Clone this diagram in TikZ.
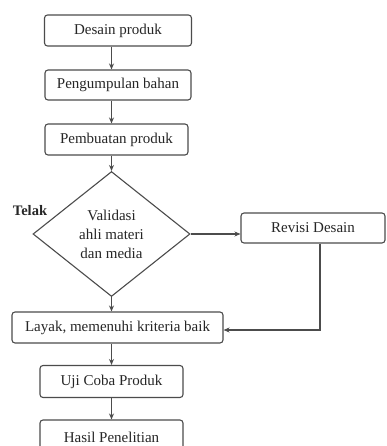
\documentclass[tikz,border=0pt]{standalone}
\usepackage{fontspec}
\setmainfont{Liberation Serif}
\usetikzlibrary{shapes.geometric,arrows.meta}
\tikzset{
  box/.style={draw=black!70, line width=1.1pt, rounded corners=3pt, inner sep=0pt, text=black!85, font=\fontsize{15}{19}\selectfont},
  flow/.style={draw=black!70, line width=1.1pt, -{Stealth[length=6pt,width=5pt]}},
  dia/.style={draw=black!70, line width=1.1pt, shape=diamond, inner sep=0pt, minimum width=157pt, minimum height=125pt, align=center, text=black!85, font=\fontsize{15}{19}\selectfont}
}
\begin{document}
\begin{tikzpicture}[x=1pt,y=-1pt]
\clip (0,0) rectangle (387,446);
\fill[white] (0,0) rectangle (387,446);
\node[box, minimum width=147pt, minimum height=31pt] (b1) at (118,30.5) {Desain produk};
\node[box, minimum width=146pt, minimum height=30pt] (b2) at (118,85) {Pengumpulan bahan};
\node[box, minimum width=143pt, minimum height=31pt] (b3) at (116.5,139.5) {Pembuatan produk};
\node[dia] (d) at (111.5,234) {Validasi\\ahli materi\\dan media};
\node[font=\bfseries\fontsize{14.5}{17}\selectfont, text=black!85, inner sep=0pt] (t) at (30,211) {Telak};
\node[box, minimum width=144pt, minimum height=30pt] (rev) at (313,228) {Revisi Desain};
\node[box, minimum width=211pt, minimum height=31pt] (lay) at (117.5,327.5) {Layak, memenuhi kriteria baik};
\node[box, minimum width=143pt, minimum height=32pt] (uji) at (111.5,381.5) {Uji Coba Produk};
\node[box, minimum width=143pt, minimum height=34pt] (has) at (111.5,437) {Hasil Penelitian};
\coordinate (c1) at (320,330);
\draw[flow] (b1.south -| d.north) -- (b2.north -| d.north);
\draw[flow] (b2.south -| d.north) -- (b3.north -| d.north);
\draw[flow] (b3.south -| d.north) -- (d.north);
\draw[flow] (d.east) -- (rev.west |- d.east);
\draw[flow] (d.south) -- (lay.north -| d.south);
\draw[flow] (rev.south -| c1) -- (c1) -- (lay.east |- c1);
\draw[flow] (lay.south -| d.south) -- (uji.north -| d.south);
\draw[flow] (uji.south) -- (has.north);
\end{tikzpicture}
\end{document}
